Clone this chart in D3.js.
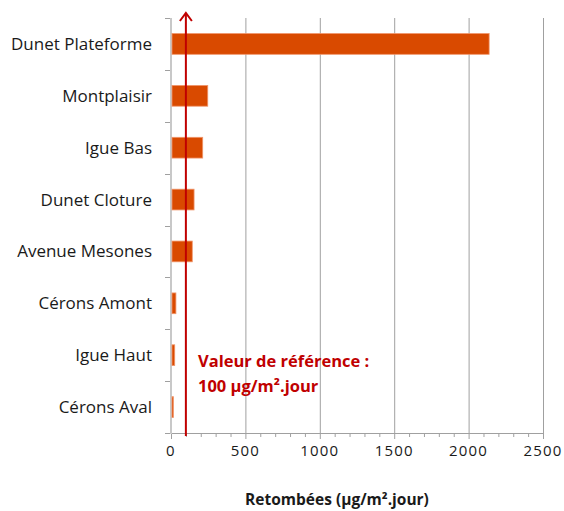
<!DOCTYPE html>
<html><head><meta charset="utf-8">
<script src="https://cdn.jsdelivr.net/npm/d3@7"></script>
<style>body{margin:0;background:#fff}svg{display:block}</style>
</head><body>
<svg id="c" width="564" height="511"></svg>
<script>
const categories = ["Dunet Plateforme","Montplaisir","Igue Bas","Dunet Cloture","Avenue Mesones","Cérons Amont","Igue Haut","Cérons Aval"];
const values = [2138, 247, 213, 155, 143, 33, 25, 16];
const xTicks = [0, 500, 1000, 1500, 2000, 2500];
const referenceValue = 100;
const referenceLabel = ["Valeur de référence :", "100 µg/m².jour"];
const xTitle = "Retombées (µg/m².jour)";

const font = "'Open Sans', Lato, sans-serif";
const svg = d3.select("#c");
const m = {left:171, right:543, top:18, bottom:433};
const x = d3.scaleLinear().domain([0,2500]).range([m.left, m.right]);
const y = d3.scaleBand().domain(categories).range([m.top, m.bottom]).paddingInner(0.6).paddingOuter(0.3);
const yb = d3.scaleBand().domain(categories).range([m.top, m.bottom]);

// gridlines
svg.append("g").selectAll("line").data(xTicks.slice(1)).join("line")
  .attr("x1", d=>x(d)+0.5).attr("x2", d=>x(d)+0.5)
  .attr("y1", m.top).attr("y2", m.bottom)
  .attr("stroke", "#a0a0a0").attr("stroke-width", 1);

// x axis line + ticks
const minor = d3.range(0, 2501, 100);
svg.append("g").selectAll("line").data(minor).join("line")
  .attr("x1", d=>x(d)+0.5).attr("x2", d=>x(d)+0.5)
  .attr("y1", m.bottom).attr("y2", d=> d%500===0 ? m.bottom+6 : m.bottom+4)
  .attr("stroke", "#a0a0a0").attr("stroke-width", 1);
svg.append("line").attr("x1", m.left-6).attr("x2", m.right+1)
  .attr("y1", m.bottom+0.5).attr("y2", m.bottom+0.5)
  .attr("stroke", "#a0a0a0").attr("stroke-width", 1);

// y axis line + ticks
const bounds = categories.map(c=>yb(c)).concat([m.bottom]);
svg.append("g").selectAll("line").data(bounds).join("line")
  .attr("x1", m.left-6).attr("x2", m.left)
  .attr("y1", d=>Math.round(d)+0.5).attr("y2", d=>Math.round(d)+0.5)
  .attr("stroke", "#a0a0a0").attr("stroke-width", 1);
svg.append("line").attr("x1", m.left).attr("x2", m.left)
  .attr("y1", m.top).attr("y2", m.bottom+1)
  .attr("stroke", "#c8c8c8").attr("stroke-width", 2);

// bars
svg.append("g").selectAll("rect").data(categories).join("rect")
  .attr("x", x(0)+1).attr("y", (d)=>y(d))
  .attr("width", (d,i)=>x(values[i])-x(0)-1).attr("height", y.bandwidth())
  .attr("fill", "#d94a00").attr("stroke", "#f0956a").attr("stroke-width", 0.8);

// category labels
svg.append("g").selectAll("text").data(categories).join("text")
  .attr("x", 152).attr("y", d=>yb(d)+yb.bandwidth()/2)
  .attr("dy", "0.35em").attr("text-anchor", "end")
  .attr("font-family", font).attr("font-size", 17).attr("fill", "#1a1a1a")
  .text(d=>d);

// x tick labels
svg.append("g").selectAll("text").data(xTicks).join("text")
  .attr("x", d=>x(d)).attr("y", 456)
  .attr("text-anchor", "middle")
  .attr("font-family", font).attr("font-size", 15).attr("letter-spacing", 1.2).attr("fill", "#1a1a1a")
  .text(d=>d);

// x title
svg.append("text").attr("x", 337).attr("y", 505).attr("text-anchor","middle")
  .attr("font-family", font).attr("font-size", 15.5).attr("font-weight","bold").attr("fill","#1a1a1a")
  .text(xTitle);

// reference line with arrow
const rx = x(referenceValue);
svg.append("line").attr("x1", rx).attr("x2", rx).attr("y1", m.bottom+3).attr("y2", 14)
  .attr("stroke", "#c00000").attr("stroke-width", 2);
svg.append("path").attr("d", `M${rx-6},${21} L${rx},${13} L${rx+6},${21}`)
  .attr("fill","none").attr("stroke","#c00000").attr("stroke-width",2);

svg.append("g").selectAll("text").data(referenceLabel).join("text")
  .attr("x", 198).attr("y", (d,i)=>367 + i*25)
  .attr("font-family", font).attr("font-size", 16.5).attr("font-weight","bold").attr("fill","#c00000")
  .text(d=>d);
</script>
</body></html>
